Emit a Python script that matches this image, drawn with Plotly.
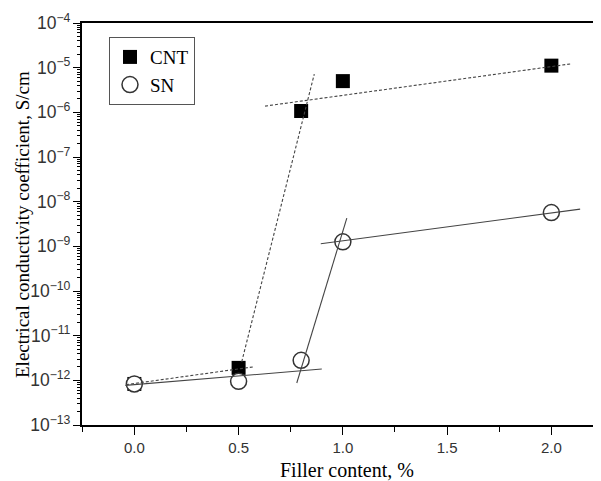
import plotly.graph_objects as go

# Data points
filler = [0.0, 0.5, 0.8, 1.0, 2.0]
cnt_vals = [8.3e-13, 1.9e-12, 1.07e-6, 5.0e-6, 1.11e-5]
sn_vals = [8.3e-13, 9.5e-13, 2.8e-12, 1.26e-9, 5.7e-9]

# Guide lines (x pairs, y pairs)
cnt_low_x = [-0.04, 0.57]
cnt_low_y = [8.0e-13, 2.0e-12]
cnt_steep_x = [0.515, 0.863]
cnt_steep_y = [2.6e-12, 7.2e-6]
cnt_high_x = [0.627, 2.09]
cnt_high_y = [1.38e-6, 1.21e-5]

sn_low_x = [-0.043, 0.899]
sn_low_y = [7.7e-13, 1.79e-12]
sn_steep_x = [0.779, 1.019]
sn_steep_y = [8.7e-13, 4.3e-9]
sn_high_x = [0.894, 2.138]
sn_high_y = [1.14e-9, 6.8e-9]

x_tickvals = [0.0, 0.5, 1.0, 1.5, 2.0]
x_ticktext = ["0.0", "0.5", "1.0", "1.5", "2.0"]

fig = go.Figure()

fig.add_trace(go.Scatter(
    x=filler, y=cnt_vals, mode="markers", name="CNT",
    marker=dict(symbol="square", size=14, color="black", line=dict(width=0)),
))
fig.add_trace(go.Scatter(
    x=filler, y=sn_vals, mode="markers", name="SN",
    marker=dict(symbol="circle", size=16, color="white", line=dict(color="#333333", width=1.5)),
))

dash_style = dict(color="#444444", width=1.1, dash="3px,2px")
solid_style = dict(color="#444444", width=1.1)
for xs, ys, st in [
    (cnt_low_x, cnt_low_y, dash_style),
    (cnt_steep_x, cnt_steep_y, dash_style),
    (cnt_high_x, cnt_high_y, dash_style),
    (sn_low_x, sn_low_y, solid_style),
    (sn_steep_x, sn_steep_y, solid_style),
    (sn_high_x, sn_high_y, solid_style),
]:
    fig.add_trace(go.Scatter(x=xs, y=ys, mode="lines", line=st, showlegend=False, hoverinfo="skip"))

fig.update_layout(
    width=593, height=473,
    margin=dict(l=74, r=0, t=15, b=56, autoexpand=False),
    paper_bgcolor="white", plot_bgcolor="white",
    showlegend=True,
    legend=dict(
        x=0.052, y=0.965, xanchor="left", yanchor="top",
        bordercolor="#555555", borderwidth=1, bgcolor="white",
        font=dict(family="Liberation Serif", size=19, color="black"),
        itemwidth=30, tracegroupgap=0,
    ),
    xaxis=dict(
        range=[-0.251, 2.238], automargin=False,
        tickmode="array", tickvals=x_tickvals, ticktext=x_ticktext,
        ticks="outside", ticklen=8, tickwidth=1.2, tickcolor="black",
        minor=dict(dtick=0.25, tick0=0, ticks="outside", ticklen=5, tickwidth=1.2, tickcolor="black", showgrid=False),
        showline=True, linecolor="black", linewidth=1.5, mirror=True,
        showgrid=False, zeroline=False,
        tickfont=dict(family="Liberation Sans", size=15, color="#333333"),
    ),
    yaxis=dict(
        type="log", range=[-13, -4], automargin=False,
        dtick=1, exponentformat="power", showexponent="all",
        ticks="outside", ticklen=7, tickwidth=1.2, tickcolor="black",
        minor=dict(dtick="D1", ticks="outside", ticklen=3, tickwidth=1, tickcolor="black", showgrid=False),
        showline=True, linecolor="black", linewidth=1.5, mirror=False,
        showgrid=False, zeroline=False,
        tickfont=dict(family="Liberation Sans", size=14, color="#333333"),
    ),
    annotations=[
        dict(text="Filler content, %", xref="paper", yref="paper", x=0.51, y=-0.112,
             xanchor="center", yanchor="middle", showarrow=False,
             font=dict(family="Liberation Serif", size=20, color="black")),
        dict(text="Electrical conductivity coefficient, S/cm", xref="paper", yref="paper",
             x=-0.1156, y=0.4975, xanchor="center", yanchor="middle", textangle=-90, showarrow=False,
             font=dict(family="Liberation Serif", size=19, color="black")),
    ],
)

fig.write_html("out.html")
